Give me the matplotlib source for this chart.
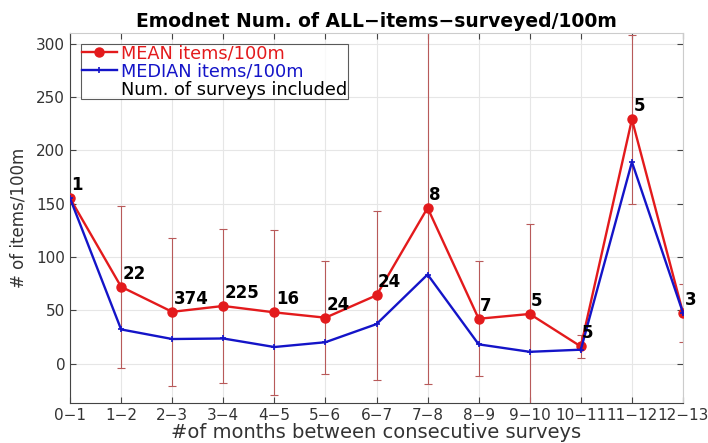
import numpy as np
import matplotlib
matplotlib.use("Agg")
import matplotlib.pyplot as plt

categories = ["0\u22121", "1\u22122", "2\u22123", "3\u22124", "4\u22125", "5\u22126", "6\u22127",
              "7\u22128", "8\u22129", "9\u221210", "10\u221211", "11\u221212", "12\u221213"]
mean_vals = [155, 72, 48.5, 54, 48, 43, 64, 146, 42, 46.5, 16, 229, 47.5]
median_vals = [155, 32, 23, 23.5, 15.5, 20, 37, 83.5, 18, 11, 13, 189, 47.5]
err_vals = [0, 76, 69.5, 72.5, 77.5, 53, 79, 165, 54, 84, 11, 79, 27.5]
n_surveys = [1, 22, 374, 225, 16, 24, 24, 8, 7, 5, 5, 5, 3]

plt.rcParams['font.family'] = ['DejaVu Sans']

fig = plt.figure(figsize=(7.08, 4.43), dpi=100)
ax = fig.add_axes([0.0989, 0.0903, 0.8658, 0.8352])

x = np.arange(len(categories))
red = '#e31a1c'
blue = '#1414c8'

ax.errorbar(x, mean_vals, yerr=err_vals, fmt='none', ecolor='#b85a5a',
            elinewidth=0.8, capsize=3, capthick=0.8, zorder=2)
ax.plot(x, mean_vals, '-o', color=red, lw=1.7, ms=6.5, label='MEAN items/100m', zorder=3)
ax.plot(x, median_vals, '-+', color=blue, lw=1.7, ms=5, mew=1.2,
        label='MEDIAN items/100m', zorder=4)
ax.plot([], [], ' ', label='Num. of surveys included')

for xi, yi, n in zip(x, mean_vals, n_surveys):
    ax.annotate(str(n), (xi, yi), xytext=(1, 3), textcoords='offset points',
                fontsize=12, fontweight='bold', ha='left', va='bottom', zorder=5)

ax.set_xlim(0, len(categories) - 1)
ax.set_ylim(-37, 310)
ax.set_xticks(x)
ax.set_xticklabels(categories, fontsize=11, color='#333333')
ax.set_yticks(np.arange(0, 301, 50))
ax.tick_params(axis='y', labelsize=11, labelcolor='#333333')
ax.tick_params(direction='in', top=True, right=True, length=4, color='#444444')
ax.grid(True, color='#e6e6e6', lw=0.8)
ax.set_axisbelow(True)
for s in ['top', 'right']:
    ax.spines[s].set_color('#cccccc')
for s in ['left', 'bottom']:
    ax.spines[s].set_color('#444444')

ax.set_title('Emodnet Num. of ALL\u2212items\u2212surveyed/100m', fontsize=13.5,
             fontweight='bold', pad=4)
ax.set_ylabel('# of items/100m', fontsize=12, color='#333333', labelpad=6)
ax.set_xlabel('#of months between consecutive surveys', fontsize=14,
              color='#333333', labelpad=0)

leg = ax.legend(loc='upper left', fontsize=12.8, frameon=True, fancybox=False,
                handlelength=2.0, handletextpad=0.2, borderpad=0.05,
                labelspacing=0.0, borderaxespad=0.6)
leg.get_frame().set_edgecolor('#333333')
leg.get_frame().set_linewidth(0.8)
for txt, c in zip(leg.get_texts(), [red, blue, 'black']):
    txt.set_color(c)

fig.savefig('out.png', dpi=100)
